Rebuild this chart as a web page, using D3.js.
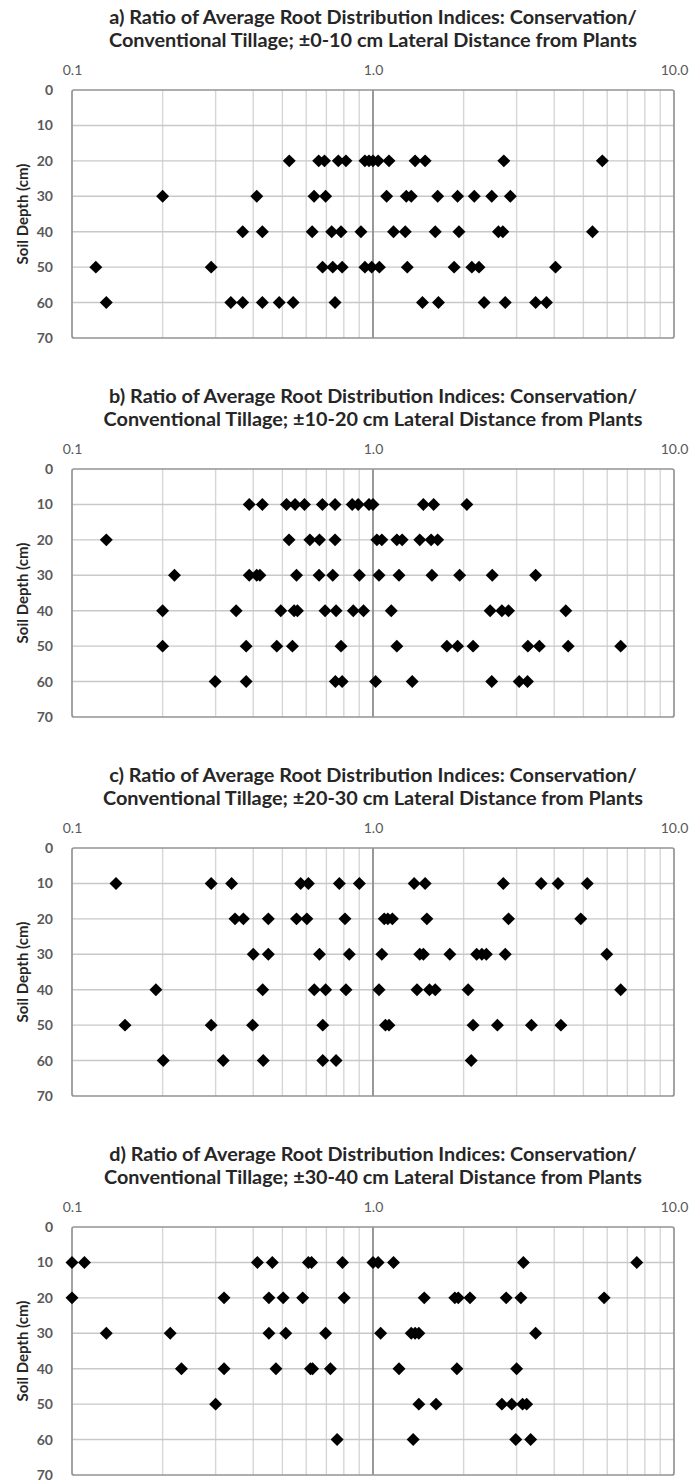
<!DOCTYPE html>
<html>
<head>
<meta charset="utf-8">
<script src="https://cdn.jsdelivr.net/npm/d3@7"></script>
<style>
  html, body { margin: 0; padding: 0; background: #fff; }
  svg { display: block; }
</style>
</head>
<body>
<svg id="chart" width="693" height="1484"></svg>
<script>
// ---------- DATA ----------
const titleLine1 = [
  "a) Ratio of Average Root Distribution Indices: Conservation/",
  "b) Ratio of Average Root Distribution Indices: Conservation/",
  "c) Ratio of Average Root Distribution Indices: Conservation/",
  "d) Ratio of Average Root Distribution Indices: Conservation/"
];
const titleLine2 = [
  "Conventional Tillage; \u00b10-10 cm Lateral Distance from Plants",
  "Conventional Tillage; \u00b110-20 cm Lateral Distance from Plants",
  "Conventional Tillage; \u00b120-30 cm Lateral Distance from Plants",
  "Conventional Tillage; \u00b130-40 cm Lateral Distance from Plants"
];
const ratioTicks = [0.1, 1, 10];
const ratioTickLabels = ["0.1", "1.0", "10.0"];
const ratioMinorGrid = [0.2,0.3,0.4,0.5,0.6,0.7,0.8,0.9,2,3,4,5,6,7,8,9];
const depthTicks = [0, 10, 20, 30, 40, 50, 60, 70];
const yAxisTitle = "Soil Depth (cm)";

// each entry: [soil depth (cm), ratios observed at that depth]
const panelA = [
  [20, [0.527, 0.66, 0.69, 0.767, 0.813, 0.94, 0.97, 1.0, 1.04, 1.13, 1.38, 1.49, 2.72, 5.78]],
  [30, [0.2, 0.411, 0.637, 0.696, 1.11, 1.29, 1.34, 1.64, 1.91, 2.17, 2.48, 2.86]],
  [40, [0.369, 0.429, 0.628, 0.729, 0.783, 0.912, 1.17, 1.28, 1.61, 1.93, 2.61, 2.70, 5.36]],
  [50, [0.12, 0.29, 0.68, 0.735, 0.79, 0.94, 0.99, 1.05, 1.30, 1.86, 2.13, 2.25, 4.04]],
  [60, [0.130, 0.337, 0.369, 0.429, 0.488, 0.543, 0.748, 1.46, 1.65, 2.34, 2.75, 3.47, 3.77]]
];
const panelB = [
  [10, [0.388, 0.429, 0.516, 0.551, 0.592, 0.679, 0.748, 0.853, 0.893, 0.97, 1.0, 1.47, 1.59, 2.05]],
  [20, [0.130, 0.526, 0.617, 0.664, 0.748, 1.03, 1.07, 1.20, 1.25, 1.43, 1.56, 1.64]],
  [30, [0.219, 0.388, 0.411, 0.421, 0.557, 0.662, 0.735, 0.901, 1.047, 1.22, 1.57, 1.94, 2.49, 3.47]],
  [40, [0.2, 0.351, 0.494, 0.547, 0.561, 0.693, 0.754, 0.86, 0.93, 1.15, 2.45, 2.68, 2.82, 4.37]],
  [50, [0.2, 0.379, 0.479, 0.54, 0.783, 1.20, 1.76, 1.91, 2.15, 3.27, 3.57, 4.45, 6.65]],
  [60, [0.299, 0.379, 0.75, 0.79, 1.02, 1.35, 2.48, 3.06, 3.26]]
];
const panelC = [
  [10, [0.140, 0.29, 0.339, 0.575, 0.610, 0.773, 0.901, 1.37, 1.49, 2.71, 3.62, 4.12, 5.15]],
  [20, [0.348, 0.371, 0.449, 0.557, 0.603, 0.807, 1.09, 1.12, 1.16, 1.51, 2.82, 4.90]],
  [30, [0.40, 0.449, 0.664, 0.834, 1.07, 1.43, 1.47, 1.80, 2.21, 2.30, 2.38, 2.75, 5.98]],
  [40, [0.19, 0.43, 0.638, 0.696, 0.813, 1.047, 1.40, 1.54, 1.61, 2.07, 6.65]],
  [50, [0.150, 0.29, 0.398, 0.681, 1.10, 1.13, 2.15, 2.59, 3.36, 4.21]],
  [60, [0.201, 0.318, 0.432, 0.681, 0.754, 2.12]]
];
const panelD = [
  [10, [0.1, 0.110, 0.413, 0.463, 0.61, 0.625, 0.792, 1.0, 1.04, 1.17, 3.16, 7.52]],
  [20, [0.1, 0.32, 0.451, 0.503, 0.584, 0.802, 1.48, 1.87, 1.92, 2.10, 2.77, 3.10, 5.86]],
  [30, [0.13, 0.212, 0.451, 0.513, 0.696, 1.06, 1.34, 1.38, 1.42, 3.47]],
  [40, [0.231, 0.32, 0.476, 0.62, 0.63, 0.722, 1.22, 1.90, 3.0]],
  [50, [0.30, 1.42, 1.62, 2.68, 2.89, 3.14, 3.24]],
  [60, [0.76, 1.36, 2.98, 3.34]]
];
const panels = [panelA, panelB, panelC, panelD];

// ---------- LAYOUT ----------
const plotLeft = 72, plotRight = 674;
const panelTops = [90, 469, 848, 1227];
const plotH = 248;
const fontFam = "Lato, 'Open Sans', 'Liberation Sans', sans-serif";

const svg = d3.select("#chart");
const x = d3.scaleLog().domain([0.1, 10]).range([plotLeft, plotRight]);

// square diamond (Excel-style marker)
const squareDiamond = {
  draw(ctx, size) {
    const r = Math.sqrt(size / 2);
    ctx.moveTo(0, -r); ctx.lineTo(r, 0); ctx.lineTo(0, r); ctx.lineTo(-r, 0); ctx.closePath();
  }
};
const symbol = d3.symbol().type(squareDiamond).size(84);

panels.forEach((rows, i) => {
  const top = panelTops[i];
  const y = d3.scaleLinear().domain([0, 70]).range([top, top + plotH]);
  const g = svg.append("g");

  // title
  const t1 = g.append("text")
    .attr("x", (plotLeft + plotRight) / 2).attr("y", top - 74)
    .attr("text-anchor", "middle").attr("dominant-baseline", "central")
    .attr("font-family", fontFam).attr("font-weight", "bold")
    .attr("font-size", 15.5).attr("fill", "#262626")
    .text(titleLine1[i]);
  const w = t1.node().getComputedTextLength();
  const fs = 15.5 * 528 / w;
  t1.attr("font-size", fs);
  g.append("text")
    .attr("x", (plotLeft + plotRight) / 2).attr("y", top - 51)
    .attr("text-anchor", "middle").attr("dominant-baseline", "central")
    .attr("font-family", fontFam).attr("font-weight", "bold")
    .attr("font-size", fs).attr("fill", "#262626")
    .text(titleLine2[i]);

  // minor vertical grid
  g.append("g").selectAll("line").data(ratioMinorGrid).join("line")
    .attr("x1", d => x(d)).attr("x2", d => x(d))
    .attr("y1", top).attr("y2", top + plotH)
    .attr("stroke", "#d6d6d6").attr("stroke-width", 1.4);

  // horizontal grid
  g.append("g").selectAll("line").data(depthTicks.slice(1, -1)).join("line")
    .attr("x1", plotLeft).attr("x2", plotRight)
    .attr("y1", d => y(d)).attr("y2", d => y(d))
    .attr("stroke", "#c8c8c8").attr("stroke-width", 1.4);

  // 1.0 line
  g.append("line")
    .attr("x1", x(1)).attr("x2", x(1))
    .attr("y1", top).attr("y2", top + plotH)
    .attr("stroke", "#878787").attr("stroke-width", 1.7);

  // border
  g.append("rect")
    .attr("x", plotLeft).attr("y", top)
    .attr("width", plotRight - plotLeft).attr("height", plotH)
    .attr("rx", 2).attr("fill", "none")
    .attr("stroke", "#949494").attr("stroke-width", 1.7);

  // top x axis labels
  const xAxis = d3.axisTop(x).tickValues(ratioTicks)
    .tickFormat((d, k) => ratioTickLabels[k]).tickSize(0).tickPadding(20);
  const xa = g.append("g").attr("transform", `translate(0,${top})`).call(xAxis);
  xa.select(".domain").remove();
  xa.selectAll("text").attr("font-family", fontFam).attr("font-size", 14)
    .attr("fill", "#595959").attr("dy", "0.35em").attr("y", -20);

  // left y axis labels
  const yAxis = d3.axisLeft(y).tickValues(depthTicks).tickSize(0).tickPadding(19);
  const ya = g.append("g").attr("transform", `translate(${plotLeft},0)`).call(yAxis);
  ya.select(".domain").remove();
  ya.selectAll("text").attr("font-family", fontFam).attr("font-size", 14)
    .attr("font-weight", "bold").attr("fill", "#595959");

  // y axis title
  g.append("text")
    .attr("transform", `translate(22,${top + plotH / 2}) rotate(-90)`)
    .attr("text-anchor", "middle").attr("dominant-baseline", "central")
    .attr("font-family", fontFam).attr("font-weight", "bold")
    .attr("font-size", 15).attr("fill", "#262626")
    .text(yAxisTitle);

  // points
  const pts = rows.flatMap(([depth, vals]) => vals.map(v => ({ depth, v })));
  g.append("g").selectAll("path").data(pts).join("path")
    .attr("d", symbol)
    .attr("transform", d => `translate(${x(d.v)},${y(d.depth)})`)
    .attr("fill", "#000");
});
</script>
</body>
</html>
